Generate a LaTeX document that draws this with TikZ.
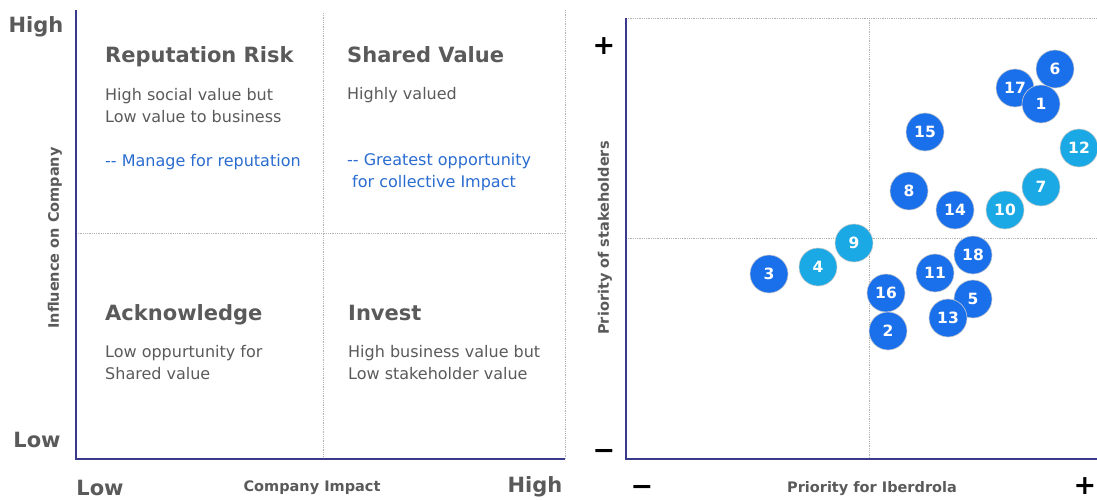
\documentclass[tikz,border=0pt]{standalone}
\usepackage{fontspec}
\setmainfont{DejaVu Sans}
\usepackage{xcolor}
\usepackage{tikz}
\usetikzlibrary{arrows,positioning}
\definecolor{axisblue}{HTML}{3A3A8C}
\definecolor{textgray}{HTML}{5A5A5A}
\definecolor{noteblue}{HTML}{2A6CD0}
\definecolor{dotdark}{HTML}{1A6FEB}
\definecolor{dotlight}{HTML}{1AA9E4}

\begin{document}
\begin{tikzpicture}[x=1pt,y=-1pt,
    grid/.style={densely dotted,black!30,line width=0.8pt},
    axis/.style={axisblue,line width=1.4pt},
    dot/.style={circle,draw=black!20,line width=0.6pt,minimum size=38pt,inner sep=0pt,
        text=white,font=\fontsize{15.5}{15.5}\selectfont\bfseries},
    dk/.style={dot,fill=dotdark},
    lt/.style={dot,fill=dotlight},
    lvl/.style={anchor=base,inner sep=0pt,text=textgray,font=\fontsize{21}{21}\selectfont\bfseries},
    sign/.style={anchor=base,inner sep=0pt,font=\fontsize{27}{27}\selectfont\bfseries},
    axlbl/.style={inner sep=0pt,text=textgray,font=\fontsize{14.5}{14.5}\selectfont\bfseries},
    ttl/.style={anchor=base west,inner sep=0pt,text=textgray,font=\fontsize{21}{21}\selectfont\bfseries},
    body/.style={anchor=base west,inner sep=0pt,align=left,text=textgray,font=\fontsize{16}{22}\selectfont},
    note/.style={body,text=noteblue}]
\useasboundingbox (0,0) rectangle (1097,500);

% left matrix
\draw[grid] (323,13) -- (323,459);
\draw[grid] (565,10) -- (565,459);
\draw[grid] (76,233) -- (565,233);
\coordinate (ltop) at (76,10);
\coordinate (lo) at (76,459);
\coordinate (lend) at (565,459);
\draw[axis] (ltop) -- (lo) -- (lend);

\node[lvl] (hi) at (36,33) {High};
\node[lvl] (low) at (37,447) {Low};
\node[lvl] (lowx) at (100,495) {Low};
\node[lvl] (hix) at (535,492) {High};
\node[axlbl,anchor=base] (ci) at (312,491) {Company Impact};
\node[axlbl,rotate=90] (ic) at (55,238) {Influence on Company};

\node[ttl] (rr) at (105,63) {Reputation Risk};
\node[body,below=60pt of rr.base west,anchor=base west] (rrb) {High social value but\\Low value to business};
\node[note,below=103pt of rr.base west,anchor=base west] (rrn) {-{}- Manage for reputation};

\node[ttl] (sv) at (347,63) {Shared Value};
\node[body,below=37pt of sv.base west,anchor=base west] (svb) {Highly valued};
\node[note,below=124pt of sv.base west,anchor=base west] (svn) {-{}- Greatest opportunity\\\hspace{5pt}for collective Impact};

\node[ttl] (ak) at (105,320) {Acknowledge};
\node[body,below=59pt of ak.base west,anchor=base west] (akb) {Low oppurtunity for\\Shared value};

\node[ttl] (iv) at (348,320) {Invest};
\node[body,below=59pt of iv.base west,anchor=base west] (ivb) {High business value but\\Low stakeholder value};

% right scatter
\draw[grid] (626,18) -- (1097,18);
\draw[grid] (869,18) -- (869,459);
\draw[grid] (626,238) -- (1097,238);
\coordinate (rtop) at (626,18);
\coordinate (ro) at (626,459);
\coordinate (rend) at (1097,459);
\draw[axis] (rtop) -- (ro) -- (rend);

\node[sign] (yp) at (604,55) {+};
\node[sign] (ym) at (604,459) {−};
\node[sign] (xm) at (642,495) {−};
\node[sign] (xp) at (1085,494) {+};
\node[axlbl,anchor=base] (pi) at (872,492) {Priority for Iberdrola};
\node[axlbl,rotate=90] (ps) at (605,238) {Priority of stakeholders};

\node[dk] (6) at (1055,69) {6};
\node[dk] (17) at (1015,88) {17};
\node[dk] (1) at (1041,104) {1};
\node[dk] (15) at (925,132) {15};
\node[lt] (12) at (1079,148) {12};
\node[dk] (8) at (909,191) {8};
\node[lt] (7) at (1041,187) {7};
\node[dk] (14) at (955,210) {14};
\node[lt] (10) at (1005,210) {10};
\node[lt] (9) at (854,243) {9};
\node[dk] (3) at (769,274) {3};
\node[lt] (4) at (818,267) {4};
\node[dk] (18) at (973,255) {18};
\node[dk] (11) at (935,273) {11};
\node[dk] (16) at (886,293) {16};
\node[dk] (2) at (888,331) {2};
\node[dk] (5) at (973,299) {5};
\node[dk] (13) at (948,318) {13};
\end{tikzpicture}
\end{document}
